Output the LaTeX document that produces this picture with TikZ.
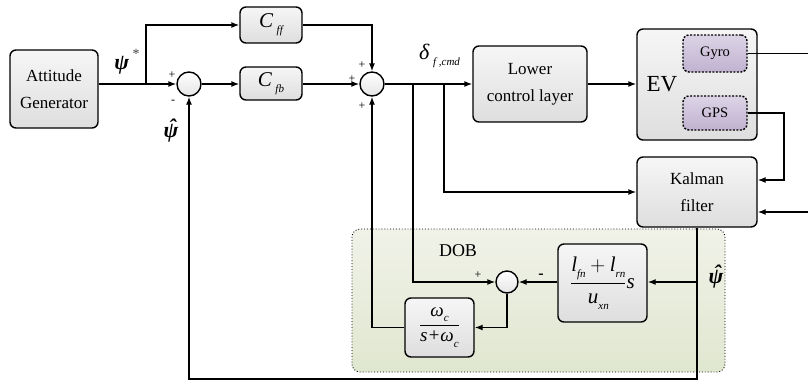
\documentclass[tikz,border=0pt]{standalone}
\usepackage{amsmath}
\usepackage{fontspec}
\setmainfont{Liberation Serif}
\usetikzlibrary{arrows.meta,calc}

% small italic subscript set in the text font
\newcommand\sub[1]{\raisebox{-0.3em}{\fontsize{11}{11}\selectfont\itshape #1}}
% bold italic psi, plain and with a hat
\newcommand\bpsi{{\bfseries\itshape ψ}}
\newcommand\hatpsi{{\bfseries\itshape\ooalign{ψ\cr\hidewidth\raisebox{0.16em}{\kern0.12em ˆ}\hidewidth\cr}}}
% display-size fraction with a heavier rule
\newcommand\bfrac[2]{\genfrac{}{}{1.1pt}{0}{#1}{#2}}

\definecolor{boxtop}{RGB}{246,246,246}
\definecolor{boxbot}{RGB}{222,222,222}
\definecolor{senstop}{RGB}{220,212,230}
\definecolor{sensbot}{RGB}{192,178,208}
\definecolor{dobtop}{RGB}{240,242,232}
\definecolor{dobbot}{RGB}{224,231,208}

\begin{document}
\begin{tikzpicture}[x=1pt,y=-1pt,
  blk/.style={draw=black,line width=1.4pt,rounded corners=6pt,
    top color=boxtop,bottom color=boxbot,inner sep=0pt,align=center,
    font=\fontsize{17}{27}\selectfont},
  sensor/.style={draw=black,line width=1.4pt,dash pattern=on 2pt off 1.5pt,
    rounded corners=6pt,top color=senstop,bottom color=sensbot,inner sep=0pt,
    font=\fontsize{14.5}{17}\selectfont},
  sumpt/.style={circle,draw=black,line width=1.4pt,minimum size=24pt,inner sep=0pt,
    top color=white,bottom color=black!10},
  wire/.style={line width=1.4pt},
  arr/.style={wire,-{Latex[length=8pt,width=6pt]}},
  sgn/.style={font=\fontsize{12}{12}\selectfont,inner sep=0pt},
  mlab/.style={font=\fontsize{22}{22}\selectfont,inner sep=0pt}]

\useasboundingbox (0,0) rectangle (808,381);

% disturbance observer region
\draw[dotted,line width=0.9pt,rounded corners=8pt,top color=dobtop,bottom color=dobbot]
  (352,229) rectangle (725,372);
\node[font=\fontsize{18}{18}\selectfont,inner sep=0pt] (dob) at (458,251) {DOB};

% blocks
\node[blk,minimum width=88pt,minimum height=78pt] (gen) at (54,89) {Attitude\\Generator};
\node[blk,minimum width=62pt,minimum height=36pt,font=\fontsize{21}{21}\selectfont\itshape]
  (cff) at (271,25) {C\,\sub{ff}};
\node[blk,minimum width=62pt,minimum height=33pt,font=\fontsize{21}{21}\selectfont\itshape]
  (cfb) at (271,83.5) {C\,\sub{fb}};
\node[blk,minimum width=114pt,minimum height=76pt] (lcl) at (530,84) {Lower\\control layer};
\node[blk,minimum width=120pt,minimum height=111pt] (ev) at (697,84.5) {};
\node[font=\fontsize{23}{23}\selectfont,inner sep=0pt] (evlab) at (662,84) {EV};
\node[sensor,minimum width=64pt,minimum height=37pt] (gyro) at (715,53.5) {Gyro};
\node[sensor,minimum width=64pt,minimum height=34pt] (gps) at (715,113) {GPS};
\node[blk,minimum width=120pt,minimum height=70pt] (kal) at (697,192) {Kalman\\filter};
\node[blk,minimum width=89pt,minimum height=78pt,font=\fontsize{21}{21}\selectfont\itshape]
  (gain) at (602.5,283)
  {$\bfrac{\text{l\sub{fn}}+\text{l\sub{rn}}}{\text{u\sub{xn}}}\text{s}$};
\node[blk,minimum width=69pt,minimum height=59pt,font=\fontsize{19}{19}\selectfont\itshape]
  (filt) at (439.5,327.5)
  {$\bfrac{\text{ω\sub{c}}}{\text{s+ω\sub{c}}}$};

% summing junctions
\node[sumpt] (s1) at (189,84) {};
\node[sumpt] (s2) at (372,84) {};
\node[sumpt,minimum size=22pt] (s3) at (507,282) {};

% branch points and free ends
\coordinate (split) at (146,84);
\coordinate (b1) at (413,84);
\coordinate (b2) at (444,84);
\coordinate (ktap) at (697,282);
\coordinate (bot) at (697,379);
\coordinate (gyroout) at (808,53.5);
\coordinate (gpsturn) at (784,113);
\coordinate (kalin) at (808,212);

% forward path
\draw[arr] (gen.east |- s1) -- (s1.west);
\draw[arr] (split) |- (cff.west);
\draw[arr] (s1.east) -- (cfb.west |- s1);
\draw[arr] (cfb.east |- s2) -- (s2.west);
\draw[arr] (cff.east) -| (s2.north);
\draw[arr] (s2.east) -- (lcl.west);
\draw[arr] (lcl.east) -- (ev.west |- lcl);

% sensors and estimator
\draw[wire] (gyro.east) -- (gyroout);
\draw[arr] (gps.east) -- (gpsturn) |- ($(kal.east)+(0,-12)$);
\draw[arr] (kalin) -- (kalin -| kal.east);
\draw[arr] (b2) |- (kal.west);

% outer feedback
\draw[arr] (kal.south) -- (bot) -| (s1.south);

% disturbance observer loop
\draw[arr] (b1) |- (s3.west);
\draw[arr] (ktap) -- (ktap -| gain.east);
\draw[arr] (s3 -| gain.west) -- (s3.east);
\draw[arr] (s3.south) |- (filt.east);
\draw[arr] (filt.west) -| (s2.south);

% signal labels
\node[mlab] (psistar) at (127,62) {\bpsi\,\raisebox{0.5em}{\fontsize{14}{14}\selectfont\color{black!75}*}};
\node[mlab] (psihat1) at (171,131) {\hatpsi};
\node[mlab] (psihat2) at (716,277) {\hatpsi};
\node[font=\fontsize{22}{22}\selectfont\itshape,inner sep=0pt,anchor=west] (delta) at (419,56)
  {δ\,\sub{f ,cmd}};

% signs at the junctions
\node[sgn] at (172,75) {+};
\node[sgn] at (173,102) {-};
\node[sgn] at (362,65) {+};
\node[sgn] at (352,79) {+};
\node[sgn] at (362,106) {+};
\node[sgn] at (478,275) {+};
\node[sgn,font=\fontsize{16}{16}\bfseries] at (541,276) {-};
\end{tikzpicture}
\end{document}
